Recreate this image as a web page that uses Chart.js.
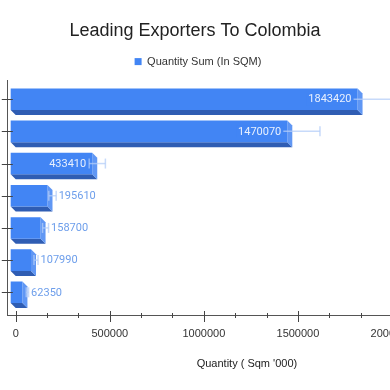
<!DOCTYPE html>
<html>
<head>
<meta charset="utf-8">
<script src="https://cdn.jsdelivr.net/npm/chart.js@4.4.1/dist/chart.umd.min.js"></script>
<style>
  html, body { margin: 0; padding: 0; background: #fff; overflow: hidden; }
  #wrap { width: 390px; height: 390px; overflow: hidden; }
</style>
</head>
<body>
<div id="wrap"><canvas id="chart" width="520" height="390"></canvas></div>
<script>
// y 轴标签在原图中不可见
const exporters = ['Exporter 1', 'Exporter 2', 'Exporter 3', 'Exporter 4', 'Exporter 5', 'Exporter 6', 'Exporter 7'];
const quantities = [1843420, 1470070, 433410, 195610, 158700, 107990, 62350];
const quantityErrors = [184342, 147007, 43341, 19561, 15870, 10799, 6235];
const xTickValues = [0, 500000, 1000000, 1500000, 2000000, 2500000];

const DEPTH = 5;
const FRONT = '#4285f4';
const BOTTOM = '#2f5db3';
const SIDE = '#6097f4';
const VISIBLE_WIDTH = 390;

Chart.defaults.font.family = 'Arial, "Liberation Sans", sans-serif';
Chart.defaults.color = '#333';

function line(ctx, x1, y1, x2, y2) {
  ctx.beginPath();
  ctx.moveTo(x1, y1);
  ctx.lineTo(x2, y2);
  ctx.stroke();
}

/**
 * 伪 3D 柱子 + 误差线 + 数值标签 + 轴刻度
 */
const bar3d = {
  id: 'bar3d',
  afterLayout(chart) {
    // 标题和图例按可见区域居中
    if (chart.titleBlock) {
      chart.titleBlock.left = 0;
      chart.titleBlock.right = VISIBLE_WIDTH;
      chart.titleBlock.width = VISIBLE_WIDTH;
    }
    if (chart.legend) {
      chart.legend.left = 0;
      chart.legend.right = VISIBLE_WIDTH + 6;
      chart.legend.width = VISIBLE_WIDTH + 6;
    }
  },
  beforeDatasetDraw(chart, args) {
    const ctx = chart.ctx;
    args.meta.data.forEach(bar => {
      const x0 = bar.base - DEPTH;
      const x1 = bar.x - DEPTH;
      const yt = bar.y - bar.height / 2;
      const yb = bar.y + bar.height / 2;
      ctx.fillStyle = BOTTOM;
      ctx.beginPath();
      ctx.moveTo(x0, yb); ctx.lineTo(x1, yb);
      ctx.lineTo(x1 + DEPTH, yb + DEPTH); ctx.lineTo(x0 + DEPTH, yb + DEPTH);
      ctx.closePath(); ctx.fill();
      ctx.fillStyle = SIDE;
      ctx.beginPath();
      ctx.moveTo(x1, yt); ctx.lineTo(x1 + DEPTH, yt + DEPTH);
      ctx.lineTo(x1 + DEPTH, yb + DEPTH); ctx.lineTo(x1, yb);
      ctx.closePath(); ctx.fill();
    });
    // 正面向左平移
    ctx.save();
    ctx.translate(-DEPTH, 0);
  },
  afterDatasetDraw(chart, args) {
    const ctx = chart.ctx;
    ctx.restore();
    const xs = chart.scales.x;

    // 误差线
    ctx.save();
    ctx.strokeStyle = 'rgba(180,205,248,0.75)';
    ctx.lineWidth = 1.5;
    args.meta.data.forEach((bar, i) => {
      const lo = xs.getPixelForValue(quantities[i] - quantityErrors[i]);
      const hi = xs.getPixelForValue(quantities[i] + quantityErrors[i]);
      line(ctx, lo, bar.y, hi, bar.y);
      line(ctx, lo, bar.y - 5, lo, bar.y + 5);
      line(ctx, hi, bar.y - 5, hi, bar.y + 5);
    });
    ctx.restore();

    // 数值标签
    ctx.save();
    ctx.font = '11px Roboto';
    ctx.textBaseline = 'middle';
    args.meta.data.forEach((bar, i) => {
      const txt = String(quantities[i]);
      const w = ctx.measureText(txt).width;
      const frontW = bar.x - bar.base;
      if (frontW > w + 14) {
        const right = bar.x - DEPTH - 6;
        ctx.fillStyle = FRONT;
        ctx.fillRect(right - w - 2, bar.y - 6, w + 4, 12);
        ctx.fillStyle = '#e8f0fe';
        ctx.textAlign = 'right';
        ctx.fillText(txt, right, bar.y + 0.5);
      } else {
        const left = xs.getPixelForValue(quantities[i] + quantityErrors[i]) + 2.5;
        ctx.fillStyle = '#6d9eeb';
        ctx.textAlign = 'left';
        ctx.fillText(txt, left, bar.y + 0.5);
      }
    });
    ctx.restore();
  },
  afterDraw(chart) {
    const ctx = chart.ctx;
    const xs = chart.scales.x;
    const ys = chart.scales.y;
    const axisY = chart.chartArea.bottom;
    const axisX = chart.chartArea.left;
    ctx.save();
    ctx.strokeStyle = '#444';
    ctx.lineWidth = 1;
    xTickValues.forEach((v, k) => {
      const px = Math.round(xs.getPixelForValue(v)) + 0.5;
      line(ctx, px, axisY - 4, px, axisY + 7);
      if (k < xTickValues.length - 1) {
        for (let m = 1; m < 3; m++) {
          const mv = v + (xTickValues[k + 1] - v) * m / 3;
          const mx = Math.round(xs.getPixelForValue(mv)) + 0.5;
          line(ctx, mx, axisY - 2, mx, axisY + 3);
        }
      }
    });
    exporters.forEach((name, i) => {
      const py = Math.round(ys.getPixelForValue(i)) + 0.5;
      line(ctx, axisX - 6, py, axisX + 5, py);
    });
    ctx.restore();
  }
};

new Chart(document.getElementById('chart'), {
  type: 'bar',
  data: {
    labels: exporters,
    datasets: [{
      label: 'Quantity Sum (In SQM)',
      data: exporters.map((name, i) => ({ x: quantities[i], y: i })),
      backgroundColor: FRONT,
      borderWidth: 0,
      barPercentage: 0.67,
      categoryPercentage: 1
    }]
  },
  options: {
    indexAxis: 'y',
    responsive: false,
    animation: false,
    layout: { padding: { left: 7, right: 28, top: 0, bottom: 0 } },
    plugins: {
      title: {
        display: true,
        text: 'Leading Exporters To Colombia',
        color: '#222',
        font: { size: 18, weight: 'normal' },
        padding: { top: 20.5, bottom: 4 }
      },
      legend: {
        position: 'top',
        labels: { boxWidth: 7, boxHeight: 7, padding: 10, color: '#333', font: { size: 11 } }
      },
      tooltip: { enabled: false }
    },
    scales: {
      x: {
        type: 'linear',
        min: -42000,
        max: 2500000,
        afterBuildTicks: s => { s.ticks = xTickValues.map(v => ({ value: v })); },
        ticks: { callback: v => String(v), color: '#333', font: { size: 11 }, padding: 12.5, maxRotation: 0, autoSkip: false },
        grid: { display: false, drawTicks: false },
        border: { display: true, color: '#555', width: 1 },
        title: {
          display: true,
          text: "Quantity ( Sqm '000)",
          color: '#222',
          font: { size: 11 },
          padding: { top: 4.2, bottom: 19.4 }
        }
      },
      // 顶部空轴，只用来留出图例下方的间距
      xTop: {
        type: 'linear',
        position: 'top',
        ticks: { display: false },
        grid: { display: false, drawTicks: false },
        border: { display: false },
        afterFit: s => { s.height = 3; }
      },
      y: {
        type: 'linear',
        reverse: true,
        offset: false,
        min: -0.593,
        max: 6.705,
        ticks: { display: false, stepSize: 1, includeBounds: false },
        grid: { display: false, drawTicks: false },
        border: { display: true, color: '#555', width: 1 }
      }
    }
  },
  plugins: [bar3d]
});
</script>
</body>
</html>
